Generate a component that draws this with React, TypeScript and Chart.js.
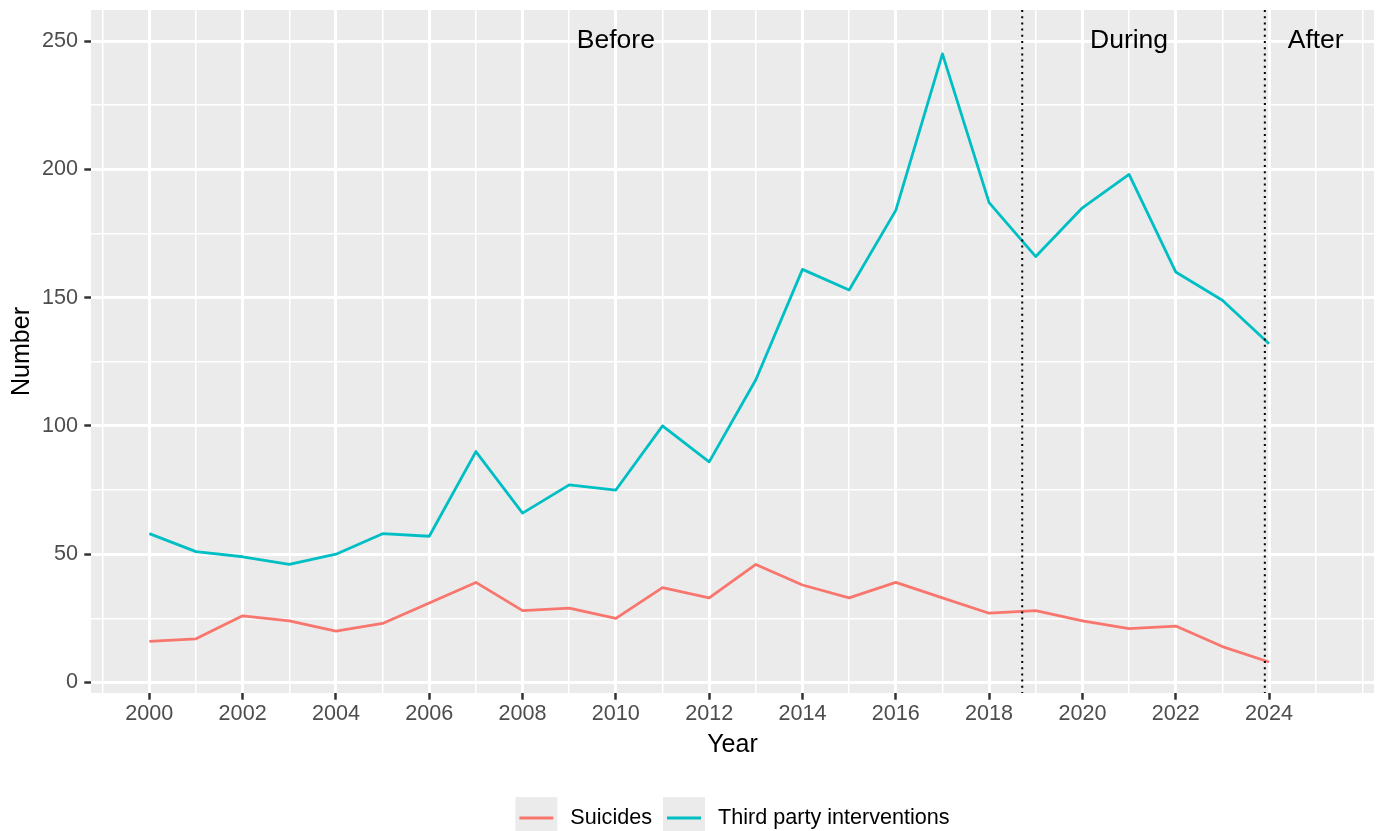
import React, { useEffect, useRef } from 'react';
import { Chart, registerables } from 'chart.js';

Chart.register(...registerables);

// ---- data ----
const years = [2000, 2001, 2002, 2003, 2004, 2005, 2006, 2007, 2008, 2009, 2010, 2011, 2012, 2013, 2014, 2015, 2016, 2017, 2018, 2019, 2020, 2021, 2022, 2023, 2024];
const suicides = [16, 17, 26, 24, 20, 23, 31, 39, 28, 29, 25, 37, 33, 46, 38, 33, 39, 33, 27, 28, 24, 21, 22, 14, 8];
const thirdParty = [58, 51, 49, 46, 50, 58, 57, 90, 66, 77, 75, 100, 86, 118, 161, 153, 184, 245, 187, 166, 185, 198, 160, 149, 132];
const seriesNames = ['Suicides', 'Third party interventions'];
const seriesColors = ['#F8766D', '#00BFC4'];

const xMajorTicks = [2000, 2002, 2004, 2006, 2008, 2010, 2012, 2014, 2016, 2018, 2020, 2022, 2024];
const xMinorTicks = [1999, 2001, 2003, 2005, 2007, 2009, 2011, 2013, 2015, 2017, 2019, 2021, 2023, 2025, 2026];
const yMajorTicks = [0, 50, 100, 150, 200, 250];
const yMinorTicks = [25, 75, 125, 175, 225];
const xLimits = [1998.75, 2026.25];
const yLimits = [-4.1, 262.1];

const phaseBoundaries = [2018.71, 2023.91];
const phaseLabels = ['Before', 'During', 'After'];
const phaseLabelX = [2010, 2021, 2025];
const phaseLabelY = 250;

const FONT = "'Liberation Sans', Arial, Helvetica, sans-serif";

const panelBg = {
  id: 'panelBg',
  beforeDraw(chart: any) {
    const { ctx, chartArea: a } = chart;
    ctx.save();
    ctx.fillStyle = '#EBEBEB';
    ctx.fillRect(a.left, a.top, a.right - a.left, a.bottom - a.top);
    ctx.restore();
  },
};

const phases = {
  id: 'phases',
  afterDatasetsDraw(chart: any) {
    const { ctx, chartArea: a, scales } = chart;
    const xs = scales.x;
    const ys = scales.y;
    ctx.save();
    ctx.strokeStyle = '#000000';
    ctx.lineWidth = 2;
    ctx.setLineDash([2, 4.2]);
    phaseBoundaries.forEach((v) => {
      const px = xs.getPixelForValue(v);
      ctx.beginPath();
      ctx.moveTo(px, a.top);
      ctx.lineTo(px, a.bottom);
      ctx.stroke();
    });
    ctx.setLineDash([]);
    ctx.fillStyle = '#000000';
    ctx.font = `26.5px ${FONT}`;
    ctx.textAlign = 'center';
    ctx.textBaseline = 'middle';
    phaseLabels.forEach((t, i) => {
      ctx.fillText(t, xs.getPixelForValue(phaseLabelX[i]), ys.getPixelForValue(phaseLabelY));
    });
    ctx.restore();
  },
};

const bottomLegend = {
  id: 'bottomLegend',
  afterDraw(chart: any) {
    const { ctx, chartArea: a } = chart;
    const ds = chart.data.datasets;
    const key = 42;
    const textGap = 13;
    const itemGap = 11;
    ctx.save();
    ctx.font = `21.6px ${FONT}`;
    const widths = ds.map((d: any) => ctx.measureText(d.label).width);
    let total = 0;
    widths.forEach((w: number, i: number) => {
      total += key + textGap + w + (i < widths.length - 1 ? itemGap : 0);
    });
    let x = (a.left + a.right) / 2 - total / 2;
    const top = 797;
    const cy = top + key / 2;
    ds.forEach((d: any, i: number) => {
      ctx.fillStyle = '#EBEBEB';
      ctx.fillRect(x, top, key, key);
      ctx.strokeStyle = d.borderColor;
      ctx.lineWidth = 2.8;
      ctx.beginPath();
      ctx.moveTo(x + 4, cy);
      ctx.lineTo(x + key - 4, cy);
      ctx.stroke();
      ctx.fillStyle = '#000000';
      ctx.textAlign = 'left';
      ctx.textBaseline = 'middle';
      ctx.fillText(d.label, x + key + textGap, cy);
      x += key + textGap + widths[i] + itemGap;
    });
    ctx.restore();
  },
};

function zeroPad(scale: any) {
  scale.paddingTop = 0;
  scale.paddingBottom = 0;
  scale.paddingLeft = 0;
  scale.paddingRight = 0;
}

export default function App() {
  const ref = useRef<HTMLCanvasElement>(null);

  useEffect(() => {
    if (!ref.current) return;
    const xMajorSet = new Set(xMajorTicks);
    const yMajorSet = new Set(yMajorTicks);
    const chart = new Chart(ref.current, {
      type: 'line',
      data: {
        datasets: [
          {
            label: seriesNames[0],
            data: years.map((yr, i) => ({ x: yr, y: suicides[i] })),
            borderColor: seriesColors[0],
            backgroundColor: seriesColors[0],
            borderWidth: 2.8,
            pointRadius: 0,
            tension: 0,
            borderJoinStyle: 'round',
          },
          {
            label: seriesNames[1],
            data: years.map((yr, i) => ({ x: yr, y: thirdParty[i] })),
            borderColor: seriesColors[1],
            backgroundColor: seriesColors[1],
            borderWidth: 2.8,
            pointRadius: 0,
            tension: 0,
            borderJoinStyle: 'round',
          },
        ],
      },
      options: {
        responsive: false,
        animation: false,
        devicePixelRatio: 1,
        layout: { padding: { top: 10, right: 5, left: 0, bottom: 0 } },
        plugins: {
          legend: { display: false },
          tooltip: { enabled: false },
        },
        scales: {
          x: {
            type: 'linear',
            min: xLimits[0],
            max: xLimits[1],
            afterBuildTicks: (scale: any) => {
              scale.ticks = [...xMajorTicks, ...xMinorTicks].sort((p, q) => p - q).map((v) => ({ value: v }));
            },
            afterFit: (scale: any) => {
              scale.height = 138;
              zeroPad(scale);
            },
            ticks: {
              autoSkip: false,
              maxRotation: 0,
              color: '#4D4D4D',
              font: { size: 21.6, family: FONT },
              padding: 1.5,
              callback: (v: any) => (xMajorSet.has(Number(v)) ? String(v) : ''),
            },
            grid: {
              color: '#FFFFFF',
              lineWidth: (c: any) => (c.tick && xMajorSet.has(c.tick.value) ? 3 : 1.5),
              tickColor: (c: any) => (c.tick && xMajorSet.has(c.tick.value) ? '#333333' : 'rgba(0,0,0,0)'),
              tickWidth: 2.5,
              tickLength: 6.7,
              drawTicks: true,
            },
            border: { display: false },
            title: {
              display: true,
              text: 'Year',
              color: '#000000',
              font: { size: 25, family: FONT },
              padding: { top: 0, bottom: 71 },
            },
          },
          y: {
            type: 'linear',
            min: yLimits[0],
            max: yLimits[1],
            afterBuildTicks: (scale: any) => {
              scale.ticks = [...yMajorTicks, ...yMinorTicks].sort((p, q) => p - q).map((v) => ({ value: v }));
            },
            afterFit: (scale: any) => {
              scale.width = 91;
              zeroPad(scale);
            },
            ticks: {
              autoSkip: false,
              color: '#4D4D4D',
              font: { size: 21.6, family: FONT },
              padding: 6.3,
              callback: (v: any) => (yMajorSet.has(Number(v)) ? String(v) : ''),
            },
            grid: {
              color: '#FFFFFF',
              lineWidth: (c: any) => (c.tick && yMajorSet.has(c.tick.value) ? 3 : 1.5),
              tickColor: (c: any) => (c.tick && yMajorSet.has(c.tick.value) ? '#333333' : 'rgba(0,0,0,0)'),
              tickWidth: 2.5,
              tickLength: 6.7,
              drawTicks: true,
            },
            border: { display: false },
            title: {
              display: true,
              text: 'Number',
              color: '#000000',
              font: { size: 25, family: FONT },
              padding: { top: 7.5, bottom: 0 },
            },
          },
        },
      },
      plugins: [panelBg, phases, bottomLegend],
    } as any);
    return () => chart.destroy();
  }, []);

  return (
    <div style={{ position: 'absolute', left: 0, top: 0, width: 1379, height: 831, background: '#FFFFFF' }}>
      <canvas ref={ref} width={1379} height={831} style={{ display: 'block', width: 1379, height: 831 }} />
    </div>
  );
}
